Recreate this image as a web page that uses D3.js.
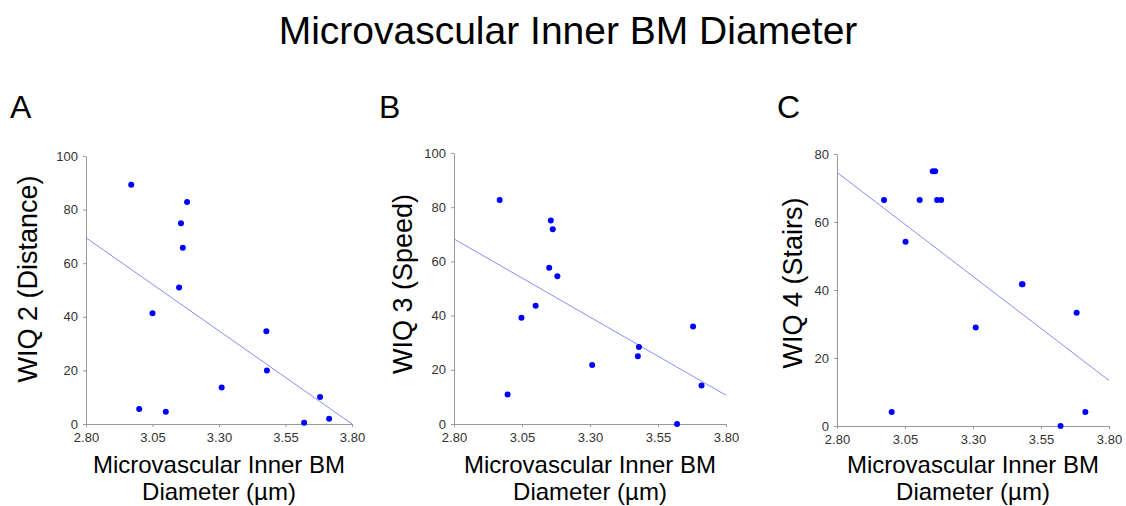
<!DOCTYPE html>
<html lang="en">
<head>
    <meta charset="UTF-8">
    <title>Microvascular Inner BM Diameter</title>
    <script src="https://d3js.org/d3.v7.min.js"></script>
    <style>
        body {
            margin: 0;
            background: #fff;
            font-family: "Liberation Sans", Arial, sans-serif;
        }
        .tick text {
            font-size: 13px;
            fill: #333;
        }
        .domain, .tick line {
            stroke: #999;
        }
    </style>
</head>
<body>
    <div id="chart"></div>
    <script>
        const xTicks = [2.80, 3.05, 3.30, 3.55, 3.80];

        // panel A - WIQ 2 (Distance)
        const diamA = [2.97, 3.00, 3.05, 3.10, 3.15, 3.157, 3.164, 3.18, 3.31, 3.478, 3.48, 3.62, 3.68, 3.714];
        const wiqA = [89.3, 5.6, 41.3, 4.6, 50.9, 74.9, 65.8, 82.8, 13.6, 34.6, 20.0, 0.5, 10.1, 2.0];
        const trendA = [69.5, 0];

        // panel B - WIQ 3 (Speed)
        const diamB = [2.968, 2.997, 3.048, 3.10, 3.15, 3.156, 3.163, 3.18, 3.308, 3.476, 3.48, 3.62, 3.679, 3.71];
        const wiqB = [82.7, 10.9, 39.2, 43.6, 57.7, 75.1, 71.9, 54.5, 21.8, 25.0, 28.4, 0, 36.0, 14.2];
        const trendB = [68.3, 10.6];

        // panel C - WIQ 4 (Stairs)
        const diamC = [2.973, 3.001, 3.052, 3.104, 3.152, 3.161, 3.168, 3.183, 3.31, 3.48, 3.482, 3.622, 3.681, 3.713];
        const wiqC = [66.5, 4.1, 54.2, 66.5, 74.9, 74.9, 66.5, 66.5, 29.0, 41.7, 41.7, 0, 33.3, 4.1];
        const trendC = [74.6, 13.4];

        const panels = [
            { letter: "A", ylab: "WIQ 2 (Distance)", xs: diamA, ys: wiqA, trend: trendA, yMax: 100, yTicks: [0, 20, 40, 60, 80, 100],
              x0: 86, x1: 352, yTop: 156, yBot: 424, letterX: 10, labX: 37, labY: 279 },
            { letter: "B", ylab: "WIQ 3 (Speed)", xs: diamB, ys: wiqB, trend: trendB, yMax: 100, yTicks: [0, 20, 40, 60, 80, 100],
              x0: 454, x1: 726, yTop: 153, yBot: 424, letterX: 379, labX: 412, labY: 284 },
            { letter: "C", ylab: "WIQ 4 (Stairs)", xs: diamC, ys: wiqC, trend: trendC, yMax: 80, yTicks: [0, 20, 40, 60, 80],
              x0: 837, x1: 1109, yTop: 154, yBot: 426, letterX: 777, labX: 802, labY: 283 }
        ];

        const svg = d3.select("#chart").append("svg")
            .attr("width", 1126)
            .attr("height", 506);

        svg.append("text")
            .attr("x", 568)
            .attr("y", 44)
            .attr("text-anchor", "middle")
            .style("font-size", "39px")
            .text("Microvascular Inner BM Diameter");

        panels.forEach(p => {
            const x = d3.scaleLinear().domain([2.80, 3.80]).range([p.x0, p.x1]);
            const y = d3.scaleLinear().domain([0, p.yMax]).range([p.yBot, p.yTop]);
            const g = svg.append("g");

            g.append("g")
                .attr("transform", `translate(0,${p.yBot})`)
                .call(d3.axisBottom(x).tickValues(xTicks).tickFormat(d3.format(".2f")).tickSizeInner(3).tickSizeOuter(0).tickPadding(6));

            g.append("g")
                .attr("transform", `translate(${p.x0},0)`)
                .call(d3.axisLeft(y).tickValues(p.yTicks).tickSizeInner(3).tickSizeOuter(0).tickPadding(5));

            g.selectAll(".tick text").style("font-family", "'Liberation Sans', Arial, sans-serif");

            // trend line
            g.append("line")
                .attr("x1", x(2.80)).attr("y1", y(p.trend[0]))
                .attr("x2", x(3.80)).attr("y2", y(p.trend[1]))
                .attr("stroke", "#8c8cf5")
                .attr("stroke-width", 1);

            g.selectAll("circle")
                .data(p.xs.map((d, i) => [d, p.ys[i]]))
                .enter().append("circle")
                .attr("cx", d => x(d[0]))
                .attr("cy", d => y(d[1]))
                .attr("r", 3)
                .attr("fill", "#0000ff");

            g.append("text")
                .attr("x", p.letterX)
                .attr("y", 118)
                .style("font-size", "32px")
                .text(p.letter);

            g.append("text")
                .attr("transform", `translate(${p.labX},${p.labY}) rotate(-90)`)
                .attr("text-anchor", "middle")
                .style("font-size", "27px")
                .text(p.ylab);

            const cx = (p.x0 + p.x1) / 2;
            g.append("text")
                .attr("x", cx).attr("y", 473)
                .attr("text-anchor", "middle")
                .style("font-size", "24px")
                .text("Microvascular Inner BM");
            g.append("text")
                .attr("x", cx).attr("y", 500)
                .attr("text-anchor", "middle")
                .style("font-size", "24px")
                .text("Diameter (µm)");
        });
    </script>
</body>
</html>
